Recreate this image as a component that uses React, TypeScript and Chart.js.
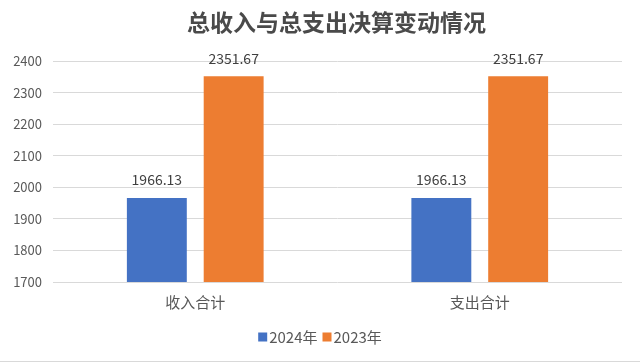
import React, { useEffect, useRef } from "react";
import { Chart, registerables } from "chart.js";

Chart.register(...registerables);

const titleText = "总收入与总支出决算变动情况";
const categories = ["收入合计", "支出合计"];
const series2024 = [1966.13, 1966.13];
const series2023 = [2351.67, 2351.67];
const seriesNames = ["2024年", "2023年"];
const yTicks = [1700, 1800, 1900, 2000, 2100, 2200, 2300, 2400];

const BLUE = "#4472C4";
const ORANGE = "#ED7D31";
const FONT = "'Noto Sans CJK SC', 'Noto Sans', sans-serif";

const labelPlugin = {
  id: "valueLabels",
  afterDatasetsDraw(chart: any) {
    const ctx = chart.ctx;
    ctx.save();
    ctx.font = `14px ${FONT}`;
    ctx.fillStyle = "#404040";
    ctx.textAlign = "center";
    ctx.textBaseline = "middle";
    chart.data.datasets.forEach((ds: any, i: number) => {
      const meta = chart.getDatasetMeta(i);
      meta.data.forEach((el: any, j: number) => {
        ctx.fillText(String(ds.data[j]), el.x, el.y - 18);
      });
    });
    ctx.restore();
  },
};

const decorPlugin = {
  id: "decor",
  afterDraw(chart: any) {
    const ctx = chart.ctx;
    ctx.save();
    // title
    ctx.font = `bold 23px ${FONT}`;
    ctx.fillStyle = "#4a4a4a";
    ctx.textAlign = "center";
    ctx.textBaseline = "middle";
    ctx.fillText(titleText, 336.5, 22);

    // legend
    ctx.font = `15px ${FONT}`;
    ctx.textBaseline = "middle";
    ctx.textAlign = "left";
    const box = 9;
    const gap = 2;
    const spacing = 5;
    const items = chart.data.datasets.map((ds: any) => ({
      text: ds.label,
      color: ds.backgroundColor,
      w: box + gap + ctx.measureText(ds.label).width,
    }));
    const total = items.reduce((s: number, it: any) => s + it.w, 0) + spacing * (items.length - 1);
    let x = chart.width / 2 - total / 2;
    const cy = 337;
    items.forEach((it: any) => {
      ctx.fillStyle = it.color;
      ctx.fillRect(x, cy - box / 2, box, box);
      ctx.fillStyle = "#595959";
      ctx.fillText(it.text, x + box + gap, cy + 0.5);
      x += it.w + spacing;
    });
    // bottom border
    ctx.strokeStyle = "#d9d9d9";
    ctx.lineWidth = 1;
    ctx.beginPath();
    ctx.moveTo(0, 361.5);
    ctx.lineTo(chart.width, 361.5);
    ctx.stroke();
    ctx.restore();
  },
};

export default function App() {
  const ref = useRef<HTMLCanvasElement | null>(null);

  useEffect(() => {
    document.body.style.margin = "0";
    if (!ref.current) return;
    const chart = new Chart(ref.current, {
      type: "bar",
      data: {
        labels: categories,
        datasets: [
          { label: seriesNames[0], data: series2024, backgroundColor: BLUE },
          { label: seriesNames[1], data: series2023, backgroundColor: ORANGE },
        ],
      },
      options: {
        animation: false,
        responsive: false,
        maintainAspectRatio: false,
        devicePixelRatio: 1,
        categoryPercentage: 0.54,
        barPercentage: 0.78,
        layout: { padding: { left: 0, right: 18, top: 61, bottom: 43 } },
        plugins: {
          legend: { display: false },
          tooltip: { enabled: false },
          title: { display: false },
        },
        scales: {
          x: {
            grid: { display: false, drawTicks: false },
            border: { display: false },
            ticks: {
              color: "#595959",
              font: { family: FONT, size: 15, lineHeight: 1.2 },
              padding: 11,
            },
            afterFit: (s: any) => {
              s.height = 38;
            },
          },
          y: {
            min: yTicks[0],
            max: yTicks[yTicks.length - 1],
            afterBuildTicks: (s: any) => {
              s.ticks = yTicks.map((v) => ({ value: v }));
            },
            grid: { color: "#d9d9d9", lineWidth: 1, drawTicks: false },
            border: { display: false },
            ticks: {
              color: "#595959",
              font: { family: FONT, size: 13, lineHeight: 1.2 },
              padding: 11,
              callback: (v: any) => String(v),
            },
            afterFit: (s: any) => {
              s.width = 53;
            },
          },
        },
      },
      plugins: [labelPlugin, decorPlugin],
    });
    return () => chart.destroy();
  }, []);

  return (
    <div style={{ width: 640, height: 363, position: "relative", background: "#fff" }}>
      <canvas ref={ref} width={640} height={363} style={{ display: "block" }} />
    </div>
  );
}
